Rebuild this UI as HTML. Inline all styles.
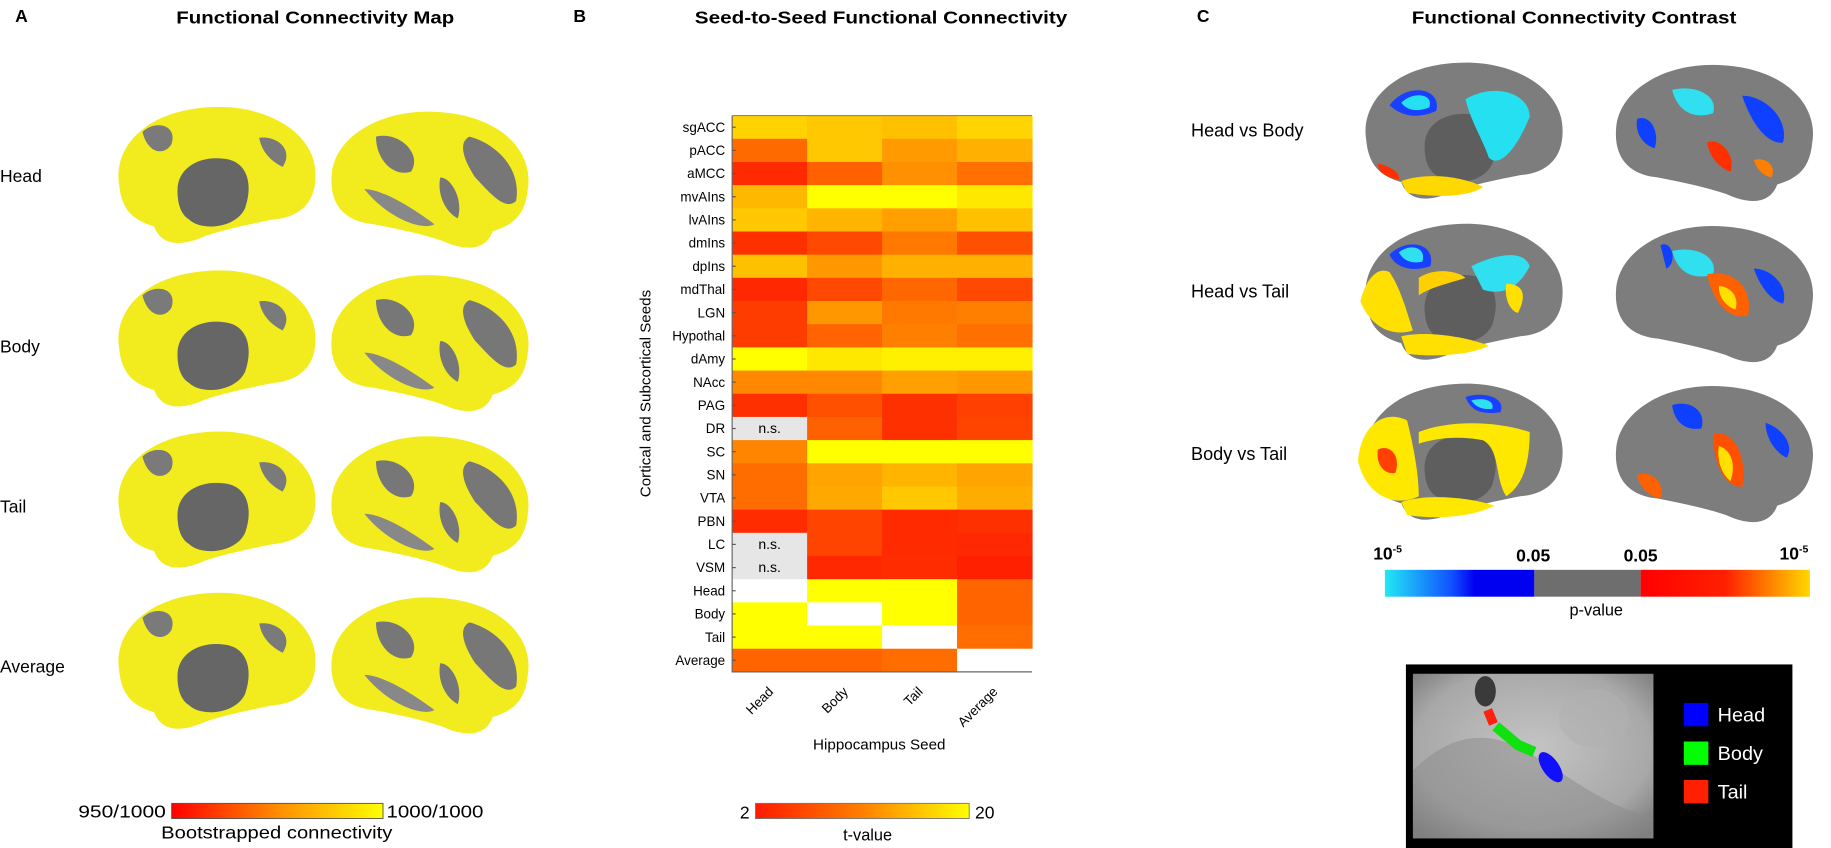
<!DOCTYPE html>
<html><head><meta charset="utf-8"><style>
body{margin:0;background:#fff}
svg{display:block;font-family:"Liberation Sans",Arial,sans-serif}
</style></head><body>
<svg width="1831" height="848" viewBox="0 0 1831 848" xmlns="http://www.w3.org/2000/svg">
<defs>
<path id="bm" d="M10,70 C5,40 30,8 85,4 C135,0 176,25 178,58 C180,84 166,98 142,100 C122,104 102,108 84,114 C62,124 46,122 40,106 C20,100 12,90 10,70 Z"/>
<path id="bl" d="M170,70 C175,40 150,8 95,4 C45,0 4,25 2,58 C0,84 14,98 38,100 C58,104 78,108 96,114 C118,124 134,122 140,106 C160,100 168,90 170,70 Z"/>
<g id="medY">
<use href="#bm" fill="#f2ec1e"/>
<path d="M60,75 C60,55 80,45 100,48 C120,50 125,70 118,90 C110,108 80,110 70,100 C62,95 60,85 60,75Z" fill="#666"/>
<path d="M30,25 C40,15 60,18 55,35 C50,45 35,45 30,25Z" fill="#7a7a7a"/>
<path d="M130,30 C145,28 160,40 150,55 C140,50 132,42 130,30Z" fill="#7a7a7a"/>
</g>
<g id="latY">
<use href="#bl" fill="#f2ec1e"/>
<path d="M120,25 C140,30 165,50 160,80 C150,90 135,70 125,60 C115,45 110,30 120,25Z" fill="#777"/>
<path d="M40,25 C60,20 80,40 70,55 C55,60 40,45 40,25Z" fill="#777"/>
<path d="M30,70 C45,70 70,85 90,100 C80,106 50,95 30,70Z" fill="#888"/>
<path d="M95,60 C105,60 115,80 110,95 C100,90 92,75 95,60Z" fill="#777"/>
</g>
<g id="medC">
<use href="#bm" fill="#7d7d7d"/>
<path d="M60,75 C60,55 80,45 100,48 C120,50 125,70 118,90 C110,108 80,110 70,100 C62,95 60,85 60,75Z" fill="#5e5e5e"/>
</g>
<g id="latC">
<use href="#bl" fill="#7d7d7d"/>
</g>
<linearGradient id="gA" x1="0" x2="1"><stop offset="0" stop-color="#ff0000"/><stop offset="0.5" stop-color="#ff8c00"/><stop offset="1" stop-color="#ffff00"/></linearGradient>
<linearGradient id="gB" x1="0" x2="1"><stop offset="0" stop-color="#ff1a00"/><stop offset="0.5" stop-color="#ff8000"/><stop offset="1" stop-color="#ffff00"/></linearGradient>
<linearGradient id="gBlue" x1="0" x2="1"><stop offset="0" stop-color="#22e8f5"/><stop offset="0.45" stop-color="#1050ff"/><stop offset="0.6" stop-color="#0000f0"/><stop offset="1" stop-color="#0000f0"/></linearGradient>
<linearGradient id="gRed" x1="0" x2="1"><stop offset="0" stop-color="#ff0000"/><stop offset="0.5" stop-color="#ff2000"/><stop offset="1" stop-color="#ffd800"/></linearGradient>
<radialGradient id="mri" cx="0.5" cy="0.45" r="0.7"><stop offset="0" stop-color="#c4c4c4"/><stop offset="0.7" stop-color="#a8a8a8"/><stop offset="1" stop-color="#777"/></radialGradient>
</defs>
<g transform="scale(1.1677)">
<g font-weight="bold" font-size="15">
<text x="13" y="19">A</text>
<text x="151" y="20" textLength="238" lengthAdjust="spacingAndGlyphs">Functional Connectivity Map</text>
<text x="491" y="19">B</text>
<text x="595" y="20" textLength="319" lengthAdjust="spacingAndGlyphs">Seed-to-Seed Functional Connectivity</text>
<text x="1025" y="19">C</text>
<text x="1209" y="20" textLength="278" lengthAdjust="spacingAndGlyphs">Functional Connectivity Contrast</text>
</g>

<g font-size="15">
<text x="0" y="156">Head</text>
<text x="0" y="302">Body</text>
<text x="0" y="439">Tail</text>
<text x="0" y="576">Average</text>
</g>
<g transform="translate(92,88)"><use href="#medY"/></g>
<g transform="translate(282,92)"><use href="#latY"/></g>
<g transform="translate(92,228)"><use href="#medY"/></g>
<g transform="translate(282,232)"><use href="#latY"/></g>
<g transform="translate(92,366)"><use href="#medY"/></g>
<g transform="translate(282,370)"><use href="#latY"/></g>
<g transform="translate(92,504)"><use href="#medY"/></g>
<g transform="translate(282,508)"><use href="#latY"/></g>
<rect x="147" y="688" width="181" height="13" fill="url(#gA)" stroke="#555" stroke-width="0.8"/>
<text x="67" y="700" font-size="15" textLength="75" lengthAdjust="spacingAndGlyphs">950/1000</text>
<text x="331" y="700" font-size="15" textLength="83" lengthAdjust="spacingAndGlyphs">1000/1000</text>
<text x="138" y="718" font-size="15" textLength="198" lengthAdjust="spacingAndGlyphs">Bootstrapped connectivity</text>

<g id="hm"></g>
<g font-size="11.5" text-anchor="end" id="rl"></g>
<text transform="translate(557,337) rotate(-90)" font-size="13" text-anchor="middle">Cortical and Subcortical Seeds</text>
<g font-size="11.5">
<text transform="translate(663,593) rotate(-45)" text-anchor="end">Head</text>
<text transform="translate(727,593) rotate(-45)" text-anchor="end">Body</text>
<text transform="translate(791,593) rotate(-45)" text-anchor="end">Tail</text>
<text transform="translate(855,593) rotate(-45)" text-anchor="end">Average</text>
</g>
<text x="753" y="642" font-size="13" text-anchor="middle">Hippocampus Seed</text>
<rect x="647" y="688" width="183" height="13" fill="url(#gB)" stroke="#777" stroke-width="0.8"/>
<text x="642" y="701" font-size="15" text-anchor="end">2</text>
<text x="835" y="701" font-size="15">20</text>
<text x="743" y="720" font-size="14" text-anchor="middle">t-value</text>

<g font-size="15.5">
<text x="1020" y="117">Head vs Body</text>
<text x="1020" y="255">Head vs Tail</text>
<text x="1020" y="394">Body vs Tail</text>
</g>
<g transform="translate(1160,50)"><use href="#medC"/>
<path d="M30,40 C45,20 75,25 70,45 C55,52 40,50 30,40Z" fill="#1a40ff"/>
<path d="M40,38 C50,28 68,30 64,42 C55,46 45,45 40,38Z" fill="#25e0f0"/>
<path d="M95,35 C120,20 150,30 150,50 C140,75 125,95 115,85 C110,70 100,55 95,35Z" fill="#25e0f0"/>
<path d="M40,105 C60,98 90,100 110,110 C100,118 70,120 45,115Z" fill="#ffd800"/>
<path d="M20,90 C30,92 40,98 38,104 C28,102 20,98 20,90Z" fill="#ff3000"/>
</g>
<g transform="translate(1382,52)"><use href="#latC"/>
<path d="M50,25 C70,20 90,30 85,45 C70,50 55,45 50,25Z" fill="#30e0f0"/>
<path d="M110,30 C130,30 150,50 145,70 C135,72 120,60 110,30Z" fill="#1040ff"/>
<path d="M20,50 C30,45 40,60 35,75 C25,72 18,62 20,50Z" fill="#1040ff"/>
<path d="M80,70 C90,65 105,80 100,95 C90,92 82,82 80,70Z" fill="#ff3000"/>
<path d="M120,85 C130,82 140,90 135,100 C127,98 122,92 120,85Z" fill="#ff8000"/>
</g>
<g transform="translate(1160,188)"><use href="#medC"/>
<path d="M30,30 C45,15 70,20 65,40 C50,45 35,42 30,30Z" fill="#1a40ff"/>
<path d="M38,28 C48,20 62,24 58,36 C50,38 42,36 38,28Z" fill="#30e0f0"/>
<path d="M100,40 C120,30 145,25 150,40 C140,60 125,65 110,60Z" fill="#30e0f0"/>
<path d="M5,70 C10,50 20,40 30,45 C40,60 45,80 50,95 C35,100 15,95 5,70Z" fill="#ffe000"/>
<path d="M55,50 C70,40 90,45 95,50 C80,55 65,58 55,65Z" fill="#ffd000"/>
<path d="M130,55 C140,55 150,60 140,80 C132,78 128,65 130,55Z" fill="#ffe000"/>
<path d="M40,100 C60,95 95,100 115,108 C100,116 70,118 45,115Z" fill="#ffe000"/>
</g>
<g transform="translate(1382,190)"><use href="#latC"/>
<path d="M50,25 C70,20 90,30 85,45 C70,50 55,45 50,25Z" fill="#30e0f0"/>
<path d="M40,20 C50,15 55,35 45,40Z" fill="#1040ff"/>
<path d="M80,45 C100,40 120,55 115,80 C100,85 85,70 80,45Z" fill="#ff6000"/>
<path d="M90,55 C100,55 108,65 104,75 C96,72 90,65 90,55Z" fill="#ffe000"/>
<path d="M120,40 C135,40 150,55 145,70 C135,68 125,55 120,40Z" fill="#1040ff"/>
</g>
<g transform="translate(1160,325)"><use href="#medC"/>
<path d="M3,70 C5,40 25,25 45,35 C50,55 55,80 55,100 C35,110 10,100 3,70Z" fill="#ffe800"/>
<path d="M20,60 C30,55 40,65 35,80 C25,82 18,72 20,60Z" fill="#ff4000"/>
<path d="M55,45 C80,35 120,35 150,45 C150,70 145,90 130,100 C120,85 125,60 110,52 C90,48 70,50 55,55Z" fill="#ffe800"/>
<path d="M40,105 C60,98 95,100 120,108 C100,118 70,120 45,116Z" fill="#ffe800"/>
<path d="M95,15 C110,10 130,15 125,28 C110,30 100,28 95,15Z" fill="#1a40ff"/>
<path d="M100,18 C110,15 120,18 118,25 C110,26 104,24 100,18Z" fill="#30e0f0"/>
</g>
<g transform="translate(1382,327)"><use href="#latC"/>
<path d="M50,20 C65,15 80,25 75,40 C62,42 52,35 50,20Z" fill="#1040ff"/>
<path d="M85,45 C100,40 115,60 110,90 C95,90 85,70 85,45Z" fill="#ff5000"/>
<path d="M90,55 C100,58 105,70 100,85 C93,80 88,68 90,55Z" fill="#ffe000"/>
<path d="M20,80 C30,75 45,85 40,100 C30,98 22,90 20,80Z" fill="#ff6000"/>
<path d="M130,35 C145,40 155,55 148,65 C138,60 130,48 130,35Z" fill="#1040ff"/>
</g>
<rect x="1186" y="488" width="128" height="23" fill="url(#gBlue)"/>
<rect x="1314" y="488" width="91" height="23" fill="#6e6e6e"/>
<rect x="1405" y="488" width="145" height="23" fill="url(#gRed)"/>
<g font-size="15" font-weight="bold">
<text x="1176" y="479">10<tspan font-size="9" dy="-6">-5</tspan></text>
<text x="1313" y="481" text-anchor="middle">0.05</text>
<text x="1405" y="481" text-anchor="middle">0.05</text>
<text x="1524" y="479">10<tspan font-size="9" dy="-6">-5</tspan></text>
</g>
<text x="1367" y="527" font-size="14" text-anchor="middle">p-value</text>

<rect x="1204" y="569" width="331" height="160" fill="#000"/>
<rect x="1210" y="577" width="206" height="141" fill="url(#mri)"/>
<path d="M1210,660 C1240,630 1270,625 1300,640 C1340,660 1370,690 1416,700 L1416,718 L1210,718Z" fill="#8a8a8a" opacity="0.5"/>
<ellipse cx="1365" cy="615" rx="30" ry="25" fill="#b0b0b0" opacity="0.6"/>
<ellipse cx="1272" cy="592" rx="9" ry="13" fill="#3a3a3a"/>
<path d="M1274,608 L1279,620" stroke="#ff2010" stroke-width="8" fill="none"/>
<path d="M1281,622 L1300,638 L1314,644" stroke="#10e010" stroke-width="9" fill="none"/>
<ellipse cx="1328" cy="657" rx="7" ry="15" transform="rotate(-35 1328 657)" fill="#1010ff"/>
<rect x="1442" y="602" width="21" height="20" fill="#0000ff"/>
<rect x="1442" y="635" width="21" height="20" fill="#00ff00"/>
<rect x="1442" y="668" width="21" height="20" fill="#ff2000"/>
<g fill="#fff" font-size="17">
<text x="1471" y="618">Head</text>
<text x="1471" y="651">Body</text>
<text x="1471" y="684">Tail</text>
</g>
</g>
<script>
var rows=[
["sgACC","#ffd200","#ffc800","#ffc000","#ffd400"],
["pACC","#ff6a00","#ffc800","#ff9a00","#ffb000"],
["aMCC","#ff2a00","#ff6000","#ff9000","#ff7000"],
["mvAIns","#ffb800","#ffff00","#ffff00","#ffe800"],
["lvAIns","#ffc800","#ffb400","#ffa000","#ffc000"],
["dmIns","#ff3000","#ff4800","#ff7800","#ff5000"],
["dpIns","#ffc000","#ff9800","#ffb000","#ffb000"],
["mdThal","#ff2800","#ff4800","#ff6800","#ff4800"],
["LGN","#ff3c00","#ff9800","#ff7800","#ff8000"],
["Hypothal","#ff3c00","#ff6400","#ff8000","#ff7000"],
["dAmy","#ffff00","#ffe800","#fff000","#fff000"],
["NAcc","#ff8800","#ff8800","#ffa000","#ff9800"],
["PAG","#ff3000","#ff5000","#ff3000","#ff4000"],
["DR","ns","#ff6000","#ff3000","#ff4400"],
["SC","#ff8400","#ffff00","#ffff00","#ffff00"],
["SN","#ff6c00","#ffa400","#ffb400","#ffa400"],
["VTA","#ff6c00","#ffa800","#ffc800","#ffac00"],
["PBN","#ff2c00","#ff4400","#ff2a00","#ff3000"],
["LC","ns","#ff4400","#ff2a00","#ff2800"],
["VSM","ns","#ff2800","#ff2c00","#ff2000"],
["Head","#ffffff","#ffff00","#ffff00","#ff6400"],
["Body","#ffff00","#ffffff","#ffff00","#ff6400"],
["Tail","#ffff00","#ffff00","#ffffff","#ff6c00"],
["Average","#ff6400","#ff6400","#ff6c00","#ffffff"]];
var NS="http://www.w3.org/2000/svg",hm=document.getElementById("hm"),rl=document.getElementById("rl");
var x0=627,y0=99,cw=64.2,rh=19.85;
function el(t,a,p){var e=document.createElementNS(NS,t);for(var k in a)e.setAttribute(k,a[k]);p.appendChild(e);return e;}
rows.forEach(function(r,i){
 var y=y0+i*rh;
 for(var j=0;j<4;j++){var c=r[j+1];
  el("rect",{x:x0+j*cw,y:y,width:cw+0.5,height:rh+0.5,fill:c=="ns"?"#e6e6e6":c},hm);
  if(c=="ns"){var t=el("text",{x:x0+j*cw+cw/2,y:y+rh/2+4,"font-size":"12","text-anchor":"middle"},hm);t.textContent="n.s.";}
 }
 var l=el("text",{x:x0-6,y:y+rh/2+4},rl);l.textContent=r[0];
 el("line",{x1:x0,x2:x0+3,y1:y+rh/2,y2:y+rh/2,stroke:"#555"},hm);
});
el("path",{d:"M"+x0+","+y0+" V"+(y0+24*rh)+" H"+(x0+4*cw),stroke:"#666",fill:"none","stroke-width":"1"},hm);
el("line",{x1:x0,x2:x0+4*cw,y1:y0,y2:y0,stroke:"#888"},hm);
</script>
</svg>
</body></html>
